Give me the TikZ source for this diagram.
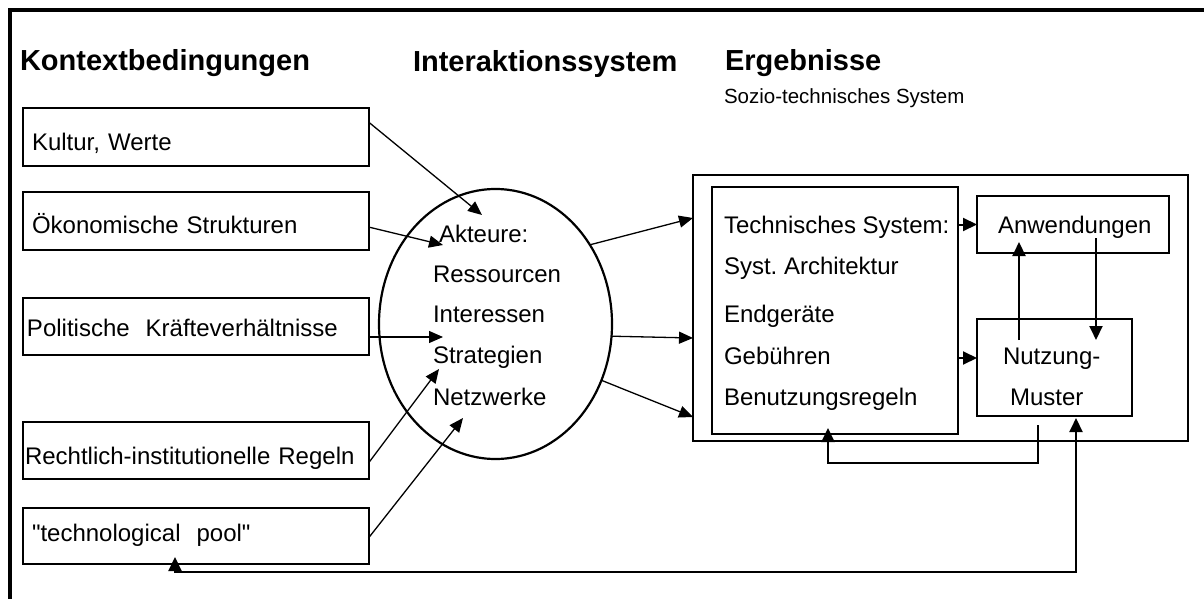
\documentclass[tikz,border=0pt]{standalone}
\usepackage{fontspec}
\setmainfont{Liberation Sans}[Ligatures=TeXOff]
\usetikzlibrary{arrows.meta,shapes.geometric,calc}
\begin{document}
\frenchspacing
\begin{tikzpicture}[x=1pt,y=-1pt,
  txt/.style={inner sep=0pt, outer sep=0pt, anchor=base west, font=\fontsize{24}{28}\selectfont\frenchspacing},
  head/.style={inner sep=0pt, outer sep=0pt, anchor=base west, font=\fontsize{29}{34}\selectfont\bfseries},
  ctx/.style={draw, line width=2pt, outer sep=0pt, anchor=north west, inner ysep=0pt, align=left, font=\fontsize{24}{28}\selectfont\frenchspacing},
  box/.style={draw, line width=2pt, outer sep=0pt, anchor=north west, inner sep=0pt},
  arr/.style={-{Triangle[length=14pt,width=12pt]}, line width=1.3pt},
  arrb/.style={-{Triangle[length=14pt,width=13pt]}, line width=2pt},
]
\useasboundingbox (0,0) rectangle (1204,599);
% frame
\draw[line width=4pt] (1210,10.5) -- (9.5,10.5) -- (9.5,610);

% headings
\node[head] (h1) at (20,71) {Kontextbedingungen};
\node[head] (h2) at (413,72) {Interaktionssystem};
\node[head] (h3) at (725,71) {Ergebnisse};
\node[txt, font=\fontsize{20.5}{24}\selectfont] (h4) at (724,104) {Sozio-technisches System};

% context boxes
\node[ctx, inner xsep=9.5pt, text width=327pt, text height=42pt, text depth=16pt] (k1) at (22.5,108) {Kultur, Werte};
\node[ctx, inner xsep=9.5pt, text width=327pt, text height=41pt, text depth=17pt] (k2) at (22.5,192) {Ökonomische Strukturen};
\node[ctx, inner xsep=4.5pt, text width=337pt, text height=38pt, text depth=19pt] (k3) at (22.5,298) {Politische\ \ Kräfteverhältnisse};
\node[ctx, inner xsep=2.5pt, text width=341pt, text height=42pt, text depth=15pt] (k4) at (22.5,422) {Rechtlich-institutionelle Regeln};
\node[ctx, inner xsep=9.5pt, text width=327pt, text height=33pt, text depth=23pt] (k5) at (22.5,508) {"technological\ \ pool"};

% interaction system
\node[draw, ellipse, line width=2.2pt, minimum width=233pt, minimum height=270pt, inner sep=0pt, outer sep=0pt] (ell) at (495.5,324) {};
\node[txt] (e1) at (439,242) {Akteure:};
\node[txt] (e2) at (433,282) {Ressourcen};
\node[txt] (e3) at (433,322) {Interessen};
\node[txt] (e4) at (433,363) {Strategien};
\node[txt] (e5) at (433,405) {Netzwerke};

% results
\node[box, minimum width=495pt, minimum height=266pt] (erg) at (693,175) {};
\node[box, minimum width=246pt, minimum height=247pt] (tech) at (712,187) {};
\node[txt] (t1) at (724,233) {Technisches System:};
\node[txt] (t2) at (724,274) {Syst. Architektur};
\node[txt] (t3) at (724,322) {Endgeräte};
\node[txt] (t4) at (724,364) {Gebühren};
\node[txt] (t5) at (724,405) {Benutzungsregeln};
\node[box, minimum width=192pt, minimum height=57pt] (anw) at (977,196) {};
\node[txt] (anwt) at (998,233) {Anwendungen};
\node[box, minimum width=155pt, minimum height=97pt] (nm) at (977,319) {};
\node[txt] (nm1) at (1003,364) {Nutzung-};
\node[txt] (nm2) at (1010,405) {Muster};

% arrow targets in the ellipse
\coordinate (a1) at (482,215);
\coordinate (a2) at (443,245);
\coordinate (a3) at (443,337);
\coordinate (a4) at (439,369);
\coordinate (a5) at (463,418);
\draw[arr] ([yshift=15pt]k1.east) -- (a1);
\draw[arr] ([yshift=-6pt]k2.east) -- (a2);
\draw[arr] (k3.east |- a3) -- (a3);
\draw[arr] ([yshift=-12.5pt]k4.east) -- (a4);
\draw[arr] ([yshift=-2pt]k5.east) -- (a5);

% ellipse to results
\coordinate (ya) at (0,218);
\coordinate (yb) at (0,338);
\coordinate (yc) at (0,417);
\draw[arr] (ell.40.6) -- (erg.west |- ya);
\draw[arr] (ell.-6.9) -- (erg.west |- yb);
\draw[arr] (ell.-28.2) -- (erg.west |- yc);

% inside results
\draw[arrb] (tech.east |- anw.west) -- (anw.west);
\coordinate (nmin) at ([yshift=9.5pt]nm.west);
\draw[arrb] (tech.east |- nmin) -- (nmin);
\coordinate (u1) at (1019,340);
\coordinate (u2) at ([yshift=11pt]anw.south -| u1);
\draw[arrb] (u1) -- (u2);
\coordinate (d1) at (1096,238);
\draw[arrb] (d1) -- (d1 |- u1);
\coordinate (f1) at ([yshift=-9pt]nm.south -| 1038,0);
\coordinate (fy) at (0,463);
\coordinate (f2) at ([yshift=6pt]tech.south -| 828,0);
\draw[arrb] (f1) -- (f1 |- fy) -| (f2);

% bottom feedback
\coordinate (b1) at ([yshift=7pt]k5.south -| 175,0);
\coordinate (b2) at ([yshift=-2pt]nm.south -| 1076,0);
\coordinate (by) at (0,572);
\draw[line width=2pt, {Triangle[length=14pt,width=13pt]}-{Triangle[length=14pt,width=13pt]}] (b1) -- (b1 |- by) -| (b2);
\end{tikzpicture}
\end{document}
